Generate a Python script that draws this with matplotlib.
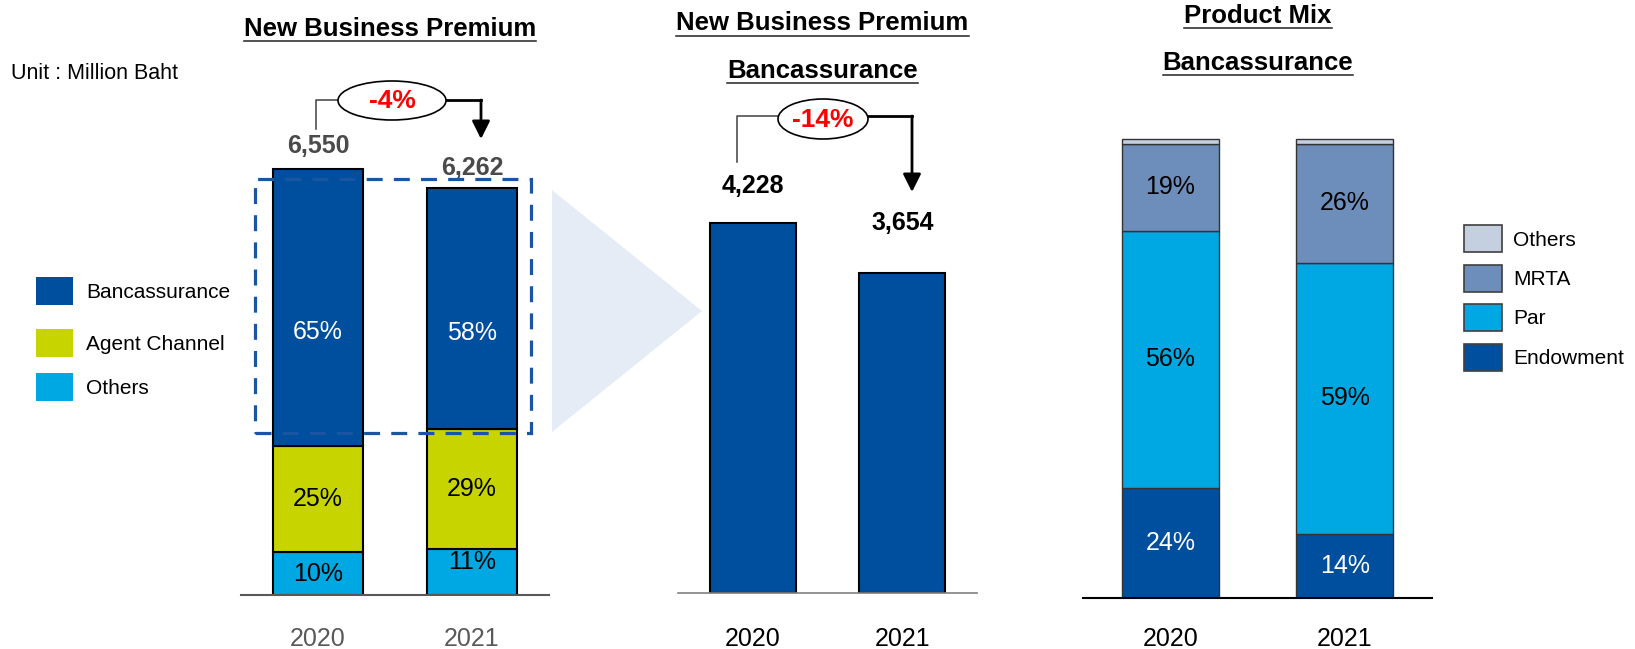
import numpy as np
import matplotlib
matplotlib.use("Agg")
import matplotlib.pyplot as plt
from matplotlib.patches import Rectangle, Ellipse, Polygon, FancyArrowPatch
from matplotlib.lines import Line2D

plt.rcParams['font.family'] = ['Liberation Sans', 'DejaVu Sans']

# data
years = ['2020', '2021']
nbp_total = [6550, 6262]            # total new business premium, MB
share_banca = [65, 58]              # % of total by channel
share_agent = [25, 29]
share_other = [10, 11]
banca_nbp = [4228, 3654]            # bancassurance NBP, MB
mix_endowment = [24, 14]            # bancassurance product mix, %
mix_par = [56, 59]
mix_mrta = [19, 26]
mix_other = [1, 1]

# colours
DARK_BLUE = '#004f9e'
LIME = '#c8d400'
CYAN = '#00a8e3'
MRTA_BLUE = '#6d8dba'
PALE = '#c4cfe0'

W, H = 1635, 649
fig = plt.figure(figsize=(W / 100, H / 100), dpi=100)


def fx(x):
    return x / W


def fy(y):
    return 1 - y / H


def panel(left, right, top, bottom):
    ax = fig.add_axes([fx(left), fy(bottom), (right - left) / W, (bottom - top) / H])
    ax.set_facecolor('none')
    for s in ['top', 'left', 'right']:
        ax.spines[s].set_visible(False)
    ax.set_yticks([])
    ax.set_xlim(-0.5, 1.5)
    return ax


x = np.arange(len(years))

# ---- left: NBP by channel ----
ax1 = panel(241, 549, 100, 595)
tot = np.array(nbp_total, dtype=float)
shares = np.array([share_other, share_agent, share_banca], dtype=float)
seg = tot * shares / shares.sum(axis=0)
seg_colors = [CYAN, LIME, DARK_BLUE]
seg_text = ['black', 'black', 'white']
seg_dy = [[0, 10], [0, 0], [-25, -25]]
bottom = np.zeros(2)
for k in range(3):
    ax1.bar(x, seg[k], 0.584, bottom=bottom, color=seg_colors[k], edgecolor='black', linewidth=1.5)
    for i in range(2):
        ax1.annotate(f'{shares[k][i]:.0f}%', xy=(i, bottom[i] + seg[k][i] / 2),
                     xytext=(0, seg_dy[k][i]), textcoords='offset pixels',
                     ha='center', va='center', fontsize=18, color=seg_text[k])
    bottom += seg[k]
for i, v in enumerate(nbp_total):
    ax1.annotate(f'{v:,}', xy=(i, v), xytext=(0, [16, 13][i]), textcoords='offset pixels',
                 ha='center', va='baseline', fontsize=18, fontweight='bold', color='#4a4a4a')
ax1.set_ylim(0, 7611)
ax1.spines['bottom'].set_color('#595959')
ax1.spines['bottom'].set_linewidth(1.5)
ax1.set_xticks(x, labels=years)
ax1.tick_params(axis='x', length=0, pad=23, labelsize=18, labelcolor='#595959')

# ---- middle: bancassurance NBP ----
ax2 = panel(678, 977, 100, 593)
ax2.bar(x, banca_nbp, 0.575, color=DARK_BLUE, edgecolor='black', linewidth=1.5)
for i, v in enumerate(banca_nbp):
    ax2.annotate(f'{v:,}', xy=(i, v), xytext=(0, [30, 43][i]), textcoords='offset pixels',
                 ha='center', va='baseline', fontsize=18, fontweight='bold', color='black')
ax2.set_ylim(0, 5634)
ax2.spines['bottom'].set_color('#808080')
ax2.spines['bottom'].set_linewidth(1.2)
ax2.set_xticks(x, labels=years)
ax2.tick_params(axis='x', length=0, pad=24.5, labelsize=18, labelcolor='black')

# ---- right: product mix ----
ax3 = panel(1083, 1432, 100, 598)
mix = [mix_endowment, mix_par, mix_mrta, mix_other]
mix_colors = [DARK_BLUE, CYAN, MRTA_BLUE, PALE]
mix_text = ['white', 'black', 'black', None]
bottom = np.zeros(2)
for k in range(4):
    vals = np.array(mix[k], dtype=float)
    ax3.bar(x, vals, 0.556, bottom=bottom, color=mix_colors[k], edgecolor='#333333', linewidth=1.0)
    if mix_text[k]:
        for i in range(2):
            ax3.text(i, bottom[i] + vals[i] / 2, f'{vals[i]:.0f}%', ha='center', va='center',
                     fontsize=18, color=mix_text[k])
    bottom += vals
ax3.set_ylim(0, 108.5)
ax3.spines['bottom'].set_color('black')
ax3.spines['bottom'].set_linewidth(1.5)
ax3.set_xticks(x, labels=years)
ax3.tick_params(axis='x', length=0, pad=21, labelsize=18, labelcolor='black')


# ---- legends (drawn as swatches + labels) ----
def swatch_legend(items, left, tops, w, h, text_x, edge):
    for (label, color), top in zip(items, tops):
        fig.add_artist(Rectangle((fx(left), fy(top + h)), w / W, h / H, transform=fig.transFigure,
                                 facecolor=color, edgecolor=edge, linewidth=1.2))
        fig.text(fx(text_x), fy(top + h / 2 + 1.5), label, ha='left', va='center', fontsize=15)


swatch_legend([('Bancassurance', DARK_BLUE), ('Agent Channel', LIME), ('Others', CYAN)],
              36, [277, 329, 373], 37, 28, 86, 'none')
swatch_legend([('Others', PALE), ('MRTA', MRTA_BLUE), ('Par', CYAN), ('Endowment', DARK_BLUE)],
              1464, [225, 265, 304, 344], 38, 27, 1513, '#404040')

# ---- decorations ----
fig.add_artist(Polygon([(fx(552), fy(190)), (fx(702), fy(311)), (fx(552), fy(432))],
                       closed=True, transform=fig.transFigure, facecolor='#e6ecf5',
                       edgecolor='none', zorder=0.5))
fig.add_artist(Rectangle((fx(255), fy(433)), (531 - 255) / W, (433 - 179) / H,
                         transform=fig.transFigure, fill=False, edgecolor='#1a55a3',
                         linewidth=2.3, linestyle=(0, (5, 3.5)), zorder=3))

fig.text(fx(11), fy(79), 'Unit : Million Baht', fontsize=15.5, va='baseline')


def growth(label, cx, cy, w, h, base, left_x, left_y0, left_y, right_x, right_y, tip_y):
    fig.add_artist(Line2D([fx(left_x), fx(left_x), fx(cx - w / 2)],
                          [fy(left_y0), fy(left_y), fy(left_y)],
                          transform=fig.transFigure, color='#404040', linewidth=1.1))
    fig.add_artist(Line2D([fx(cx + w / 2), fx(right_x)], [fy(right_y), fy(right_y)],
                          transform=fig.transFigure, color='black', linewidth=2,
                          solid_capstyle='projecting'))
    fig.add_artist(FancyArrowPatch((fx(right_x), fy(right_y)), (fx(right_x), fy(tip_y)),
                                   transform=fig.transFigure, arrowstyle='-|>,head_length=0.6,head_width=0.3',
                                   mutation_scale=18, color='black', linewidth=2,
                                   shrinkA=0, shrinkB=0))
    fig.add_artist(Ellipse((fx(cx), fy(cy)), w / W, h / H, transform=fig.transFigure,
                           facecolor='white', edgecolor='black', linewidth=1.2, zorder=4))
    fig.text(fx(cx), fy(base), label, ha='center', va='baseline', fontsize=19,
             fontweight='bold', color='#ff0000', zorder=5)


g1 = round((nbp_total[1] / nbp_total[0] - 1) * 100)
g2 = round((banca_nbp[1] / banca_nbp[0] - 1) * 100)
growth(f'{g1}%', 392, 100.5, 108, 39, 108, 316, 129, 100, 481, 100, 139)
growth(f'{g2}%', 823, 119, 90, 40, 127, 737, 162, 116, 912, 116, 192)

# underlined titles
titles = [('New Business Premium', 390, 36),
          ('New Business Premium', 822.5, 30.5),
          ('Bancassurance', 822.5, 78),
          ('Product Mix', 1258, 23),
          ('Bancassurance', 1258, 70)]
renderer = fig.canvas.get_renderer()
for txt, xc, yb in titles:
    t = fig.text(fx(xc), fy(yb), txt, ha='center', va='baseline', fontsize=18.5, fontweight='bold')
    bb = t.get_window_extent(renderer)
    fig.add_artist(Line2D([bb.x0 / W, bb.x1 / W], [fy(yb + 5), fy(yb + 5)],
                          transform=fig.transFigure, color='#222222', linewidth=1.1))

fig.savefig('out.png', dpi=100)
